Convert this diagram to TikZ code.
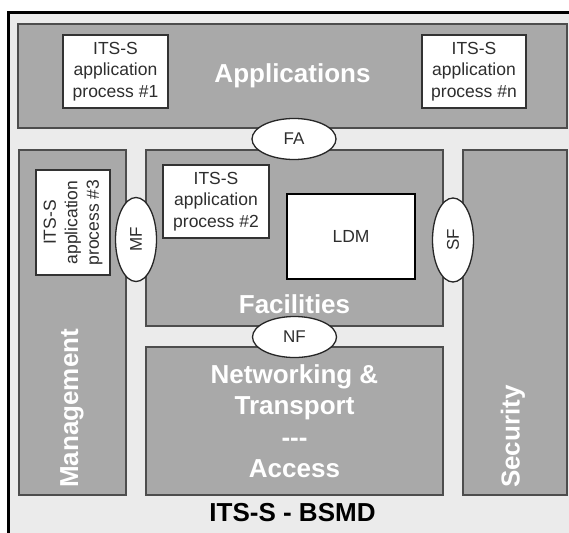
\documentclass[tikz,border=0pt]{standalone}
\usepackage{fontspec}
\setmainfont{Liberation Sans}
\usetikzlibrary{shapes.geometric}
\definecolor{framebg}{HTML}{EBEBEB}
\definecolor{layer}{HTML}{A9A9A9}
\definecolor{layeredge}{HTML}{4D4D4D}
\definecolor{boxtext}{HTML}{2E2E2E}
\begin{document}
\begin{tikzpicture}[x=1pt,y=-1pt,
  layerbox/.style={draw=layeredge, line width=1.6pt, fill=layer, inner sep=0pt, outer sep=0pt},
  procbox/.style={draw=black!80, line width=1.4pt, fill=white, align=center, text=boxtext,
    font=\fontsize{17.5}{21.5}\selectfont, inner sep=0pt, outer sep=0pt},
  iface/.style={ellipse, draw=black!85, line width=1.3pt, fill=white, minimum width=84pt,
    minimum height=41pt, inner sep=0pt, text=boxtext, font=\fontsize{17}{20}\selectfont},
  layertext/.style={text=white, font=\bfseries\fontsize{26}{31.5}\selectfont, align=center, inner sep=0pt}]
\useasboundingbox (0,0) rectangle (569,532);
\clip (0,0) rectangle (569,532);
\fill[white] (0,0) rectangle (569,532);
% outer frame
\draw[line width=3.5pt, fill=framebg] (8.5,12.5) rectangle (620,600);
% layers
\node[layerbox, layertext, minimum width=549pt, minimum height=104pt] (apps) at (292.5,76) {Applications};
\node[layerbox, minimum width=107pt, minimum height=345pt] (mgmt) at (72.5,322.5) {};
\node[layerbox, minimum width=297pt, minimum height=176pt] (fac) at (294.5,238) {};
\node[layerbox, minimum width=104pt, minimum height=345pt] (sec) at (515,322.5) {};
\node[layerbox, layertext, minimum width=297pt, minimum height=148pt] (net) at (294.5,421)
  {Networking \&\\Transport\\{-}{-}{-}\\Access};
% layer labels
\node[layertext] (factext) at (294.5,304) {Facilities};
\node[layertext, rotate=90, anchor=west] (mgmttext) at (72,488) {Management};
\node[layertext, rotate=90, anchor=west] (sectext) at (513,488) {Security};
% application processes
\node[procbox, minimum width=105pt, minimum height=73pt] (p1) at (115.5,71.5) {ITS-S\\application\\process \#1};
\node[procbox, minimum width=104pt, minimum height=73pt] (pn) at (474,71.5) {ITS-S\\application\\process \#n};
\node[procbox, minimum width=106pt, minimum height=73pt] (p2) at (216,201.5) {ITS-S\\application\\process \#2};
\node[procbox, rotate=90, minimum width=105pt, minimum height=74pt] (p3) at (73,222.5) {ITS-S\\application\\process \#3};
\node[procbox, draw=black, line width=2.6pt, minimum width=128pt, minimum height=85pt] (ldm) at (351,236.5) {LDM};
% interfaces
\node[iface] (fa) at (294,139) {FA};
\node[iface] (nf) at (294.5,337) {NF};
\node[iface, rotate=90] (mf) at (136,239.5) {MF};
\node[iface, rotate=90] (sf) at (453,240) {SF};
% ITS-S label
\node[font=\bfseries\fontsize{26}{30}\selectfont, inner sep=0pt] (title) at (292.5,513) {ITS-S - BSMD};
\end{tikzpicture}
\end{document}
